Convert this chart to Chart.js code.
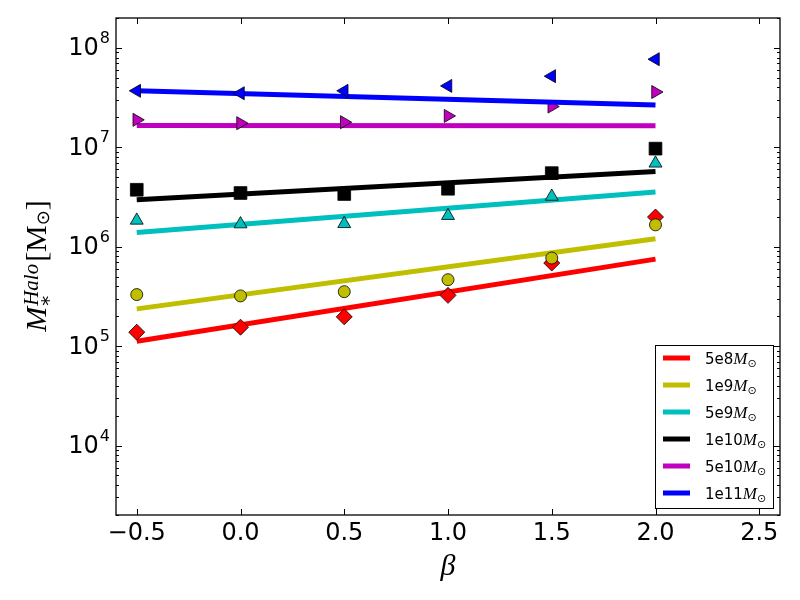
<!DOCTYPE html>
<html>
<head>
<meta charset="utf-8">
<script src="https://cdn.jsdelivr.net/npm/chart.js@4.4.0/dist/chart.umd.min.js"></script>
<style>
body { margin: 0; background: #fff; }
#wrap { width: 800px; height: 600px; }
</style>
</head>
<body>
<div id="wrap"><canvas id="haloCanvas"></canvas></div>
<script>
// beta values where the runs were done, and the two ends of each fit line
const betas = [-0.5, 0.0, 0.5, 1.0, 1.5, 2.0];
const fitBetas = [-0.5, 2.0];
const haloNames = ['5e8', '1e9', '5e9', '1e10', '5e10', '1e11'];

// stellar halo mass per halo mass
const stars5e8 = [1.38e5, 1.55e5, 1.97e5, 3.24e5, 6.85e5, 1.99e6];
const stars1e9 = [3.3e5, 3.2e5, 3.53e5, 4.66e5, 7.7e5, 1.66e6];
const stars5e9 = [1.84e6, 1.69e6, 1.70e6, 2.05e6, 3.2e6, 6.9e6];
const stars1e10 = [3.74e6, 3.47e6, 3.39e6, 3.83e6, 5.5e6, 9.7e6];
const stars5e10 = [1.89e7, 1.75e7, 1.79e7, 2.07e7, 2.57e7, 3.6e7];
const stars1e11 = [3.7e7, 3.5e7, 3.7e7, 4.15e7, 5.2e7, 7.7e7];

// fit lines, value at beta = -0.5 and beta = 2.0
const fit5e8 = [1.12e5, 7.5e5];
const fit1e9 = [2.37e5, 1.2e6];
const fit5e9 = [1.39e6, 3.55e6];
const fit1e10 = [2.97e6, 5.7e6];
const fit5e10 = [1.66e7, 1.65e7];
const fit1e11 = [3.7e7, 2.67e7];

const xTicks = [-0.5, 0.0, 0.5, 1.0, 1.5, 2.0, 2.5];
const yTicks = [1e4, 1e5, 1e6, 1e7, 1e8];

const groups = [
    { stars: stars5e8, fit: fit5e8, color: '#ff0000', marker: 'rectRot', radius: 8, rotation: 0 },
    { stars: stars1e9, fit: fit1e9, color: '#bfbf00', marker: 'circle', radius: 6, rotation: 0 },
    { stars: stars5e9, fit: fit5e9, color: '#00bfbf', marker: 'triangle', radius: 7.5, rotation: 0 },
    { stars: stars1e10, fit: fit1e10, color: '#000000', marker: 'rect', radius: 9, rotation: 0 },
    { stars: stars5e10, fit: fit5e10, color: '#bf00bf', marker: 'triangle', radius: 7.5, rotation: 90 },
    { stars: stars1e11, fit: fit1e11, color: '#0000ff', marker: 'triangle', radius: 7.5, rotation: -90 }
];

const datasets = [];
groups.forEach((g, i) => {
    const base = 2 * (groups.length - i);
    datasets.push({
        type: 'line',
        label: haloNames[i],
        data: fitBetas.map((b, j) => ({ x: b, y: g.fit[j] })),
        borderColor: g.color,
        borderWidth: 5,
        pointRadius: 0,
        fill: false,
        order: base
    });
    datasets.push({
        type: 'scatter',
        label: haloNames[i] + ' runs',
        data: betas.map((b, j) => ({ x: b, y: g.stars[j] })),
        pointStyle: g.marker,
        rotation: g.rotation,
        pointRadius: g.radius,
        backgroundColor: g.color,
        borderColor: '#000',
        borderWidth: 0.8,
        order: base - 1
    });
});

function fmtBeta(v) {
    return (v < 0 ? '\u2212' : '') + Math.abs(v).toFixed(1);
}

// draws a row of text pieces; pieces with stack:true don't move the pen
function drawPieces(ctx, pieces, x0, y0) {
    let x = x0;
    pieces.forEach(p => {
        ctx.font = p.font;
        ctx.fillText(p.text, x + (p.dx || 0), y0 + (p.dy || 0));
        if (!p.stack) x += ctx.measureText(p.text).width + (p.gap || 0);
    });
}
function piecesWidth(ctx, pieces) {
    let w = 0;
    pieces.forEach(p => {
        ctx.font = p.font;
        if (!p.stack) w += ctx.measureText(p.text).width + (p.gap || 0);
    });
    return w;
}

const mplLook = {
    id: 'mplLook',
    afterDatasetsDraw(chart) {
        const ctx = chart.ctx;
        const a = chart.chartArea;
        const xs = chart.scales.x;
        const ys = chart.scales.y;
        ctx.save();
        ctx.strokeStyle = '#000';
        ctx.fillStyle = '#000';
        ctx.lineWidth = 1;

        // y ticks, major and minor, inside on both sides
        ctx.beginPath();
        for (let e = 3; e <= 8; e++) {
            for (let k = 1; k <= 9; k++) {
                const v = k * Math.pow(10, e);
                if (v < ys.min || v > ys.max) continue;
                const py = Math.round(ys.getPixelForValue(v)) + 0.5;
                const len = k === 1 ? 6 : 3;
                ctx.moveTo(a.left, py); ctx.lineTo(a.left + len, py);
                ctx.moveTo(a.right, py); ctx.lineTo(a.right - len, py);
            }
        }
        // x ticks
        xTicks.forEach(v => {
            const px = Math.round(xs.getPixelForValue(v)) + 0.5;
            ctx.moveTo(px, a.bottom); ctx.lineTo(px, a.bottom - 6);
            ctx.moveTo(px, a.top); ctx.lineTo(px, a.top + 6);
        });
        ctx.stroke();

        // frame
        ctx.lineWidth = 1.3;
        ctx.strokeRect(a.left, a.top, a.right - a.left, a.bottom - a.top);

        // x tick labels
        ctx.textAlign = 'center';
        ctx.textBaseline = 'alphabetic';
        ctx.font = '24px "DejaVu Sans"';
        xTicks.forEach(v => {
            ctx.fillText(fmtBeta(v), xs.getPixelForValue(v), a.bottom + 25);
        });

        // y tick labels 10^n
        ctx.textAlign = 'left';
        yTicks.forEach(v => {
            const py = ys.getPixelForValue(v);
            const sup = String(Math.round(Math.log10(v)));
            ctx.font = '16px "DejaVu Sans"';
            const sw = ctx.measureText(sup).width;
            ctx.font = '24px "DejaVu Sans"';
            const bw = ctx.measureText('10').width;
            const right = a.left - 6;
            ctx.fillText('10', right - sw - bw - 1, py + 7.5);
            ctx.font = '16px "DejaVu Sans"';
            ctx.fillText(sup, right - sw, py - 5);
        });

        // x axis title
        ctx.textAlign = 'center';
        ctx.font = 'italic 30px "Liberation Serif"';
        ctx.fillText('\u03b2', (a.left + a.right) / 2, 575);

        // y axis title
        const yTitle = [
            { text: 'M', font: 'italic 30px "Liberation Serif"', gap: 1 },
            { text: '*', font: '20px "DejaVu Sans"', dy: 9, stack: true },
            { text: 'Halo', font: 'italic 21px "Liberation Serif"', dy: -8, gap: 2 },
            { text: '[', font: '30px "Liberation Serif"' },
            { text: 'M', font: '30px "Liberation Serif"' },
            { text: '\u2299', font: '18px "DejaVu Sans"', dy: 3 },
            { text: ']', font: '30px "Liberation Serif"' }
        ];
        ctx.save();
        ctx.translate(46, 266);
        ctx.rotate(-Math.PI / 2);
        ctx.textAlign = 'left';
        drawPieces(ctx, yTitle, -piecesWidth(ctx, yTitle) / 2, 0);
        ctx.restore();

        // legend box, lower right
        const lw = 118, lh = 163;
        const lx = a.right - 7 - lw, ly = a.bottom - 7 - lh;
        ctx.fillStyle = '#fff';
        ctx.fillRect(lx, ly, lw, lh);
        ctx.lineWidth = 1;
        ctx.strokeStyle = '#000';
        ctx.strokeRect(Math.round(lx) + 0.5, Math.round(ly) + 0.5, lw, lh);
        haloNames.forEach((name, i) => {
            const ry = ly + 13 + 27 * i;
            ctx.strokeStyle = groups[i].color;
            ctx.lineWidth = 5;
            ctx.beginPath();
            ctx.moveTo(lx + 8, ry);
            ctx.lineTo(lx + 35, ry);
            ctx.stroke();
            ctx.fillStyle = '#000';
            ctx.textAlign = 'left';
            drawPieces(ctx, [
                { text: name, font: '15px "DejaVu Sans"' },
                { text: 'M', font: 'italic 17px "Liberation Serif"' },
                { text: '\u2299', font: '11px "DejaVu Sans"', dy: 3 }
            ], lx + 50, ry + 5.5);
        });
        ctx.restore();
    }
};

new Chart(document.getElementById('haloCanvas'), {
    type: 'scatter',
    data: { datasets: datasets },
    options: {
        responsive: true,
        maintainAspectRatio: false,
        animation: false,
        events: [],
        layout: { padding: { top: 18, right: 20, left: 0, bottom: 0 } },
        plugins: { legend: { display: false }, tooltip: { enabled: false } },
        scales: {
            x: {
                type: 'linear',
                min: -0.6,
                max: 2.6,
                ticks: { display: false },
                grid: { display: false },
                border: { display: false },
                afterFit: s => { s.height = 85; }
            },
            y: {
                type: 'logarithmic',
                min: 2e3,
                max: 2e8,
                ticks: { display: false },
                grid: { display: false },
                border: { display: false },
                afterFit: s => { s.width = 116; }
            }
        }
    },
    plugins: [mplLook]
});
</script>
</body>
</html>
